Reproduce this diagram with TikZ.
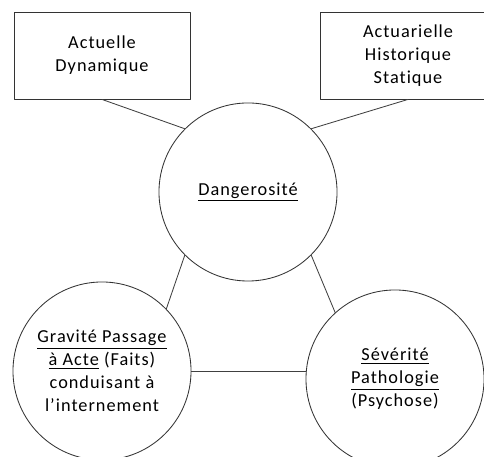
\documentclass[tikz,border=0pt]{standalone}
\usepackage{fontspec}
\setmainfont{Carlito}[Ligatures=NoCommon, LetterSpace=5.5]
\tikzset{
	boite/.style={draw=black!80, line width=.6pt, minimum width=4.4cm, minimum height=2.175cm, align=center},
	rond/.style={draw=black!80, line width=.6pt, circle, minimum size=4.45cm, inner sep=0pt, align=center},
	lien/.style={draw=black!75, line width=.6pt}
}
\begin{document}
\begin{tikzpicture}[x=.025cm, y=.025cm, font=\fontsize{13}{16.3}\selectfont, line join=round, line cap=round]
	\useasboundingbox (0,0) rectangle (484,457);
	\node[boite] (actuelle) at (102,401.5) {Actuelle\\Dynamique};
	\node[boite] (actuarielle) at (408,401.5) {Actuarielle\\Historique\\Statique};
	\node[rond] (danger) at (248,265) {\underline{Dangerosité}};
	\node[rond] (gravite) at (102,86) {\underline{Gravité Passage}\\\underline{à Acte} (Faits)\\conduisant à\\l’internement};
	\node[rond] (severite) at (395,78) {\underline{Sévérité}\\\underline{Pathologie}\\(Psychose)};
	\draw[lien] (actuelle.south) -- (danger.135);
	\draw[lien] (actuarielle.south) -- (danger.45);
	\draw[lien] (danger.225) -- (gravite.44);
	\draw[lien] (danger.315) -- (severite.132);
	\draw[lien] (gravite.east) -- (gravite.east -| severite.west);
\end{tikzpicture}
\end{document}
